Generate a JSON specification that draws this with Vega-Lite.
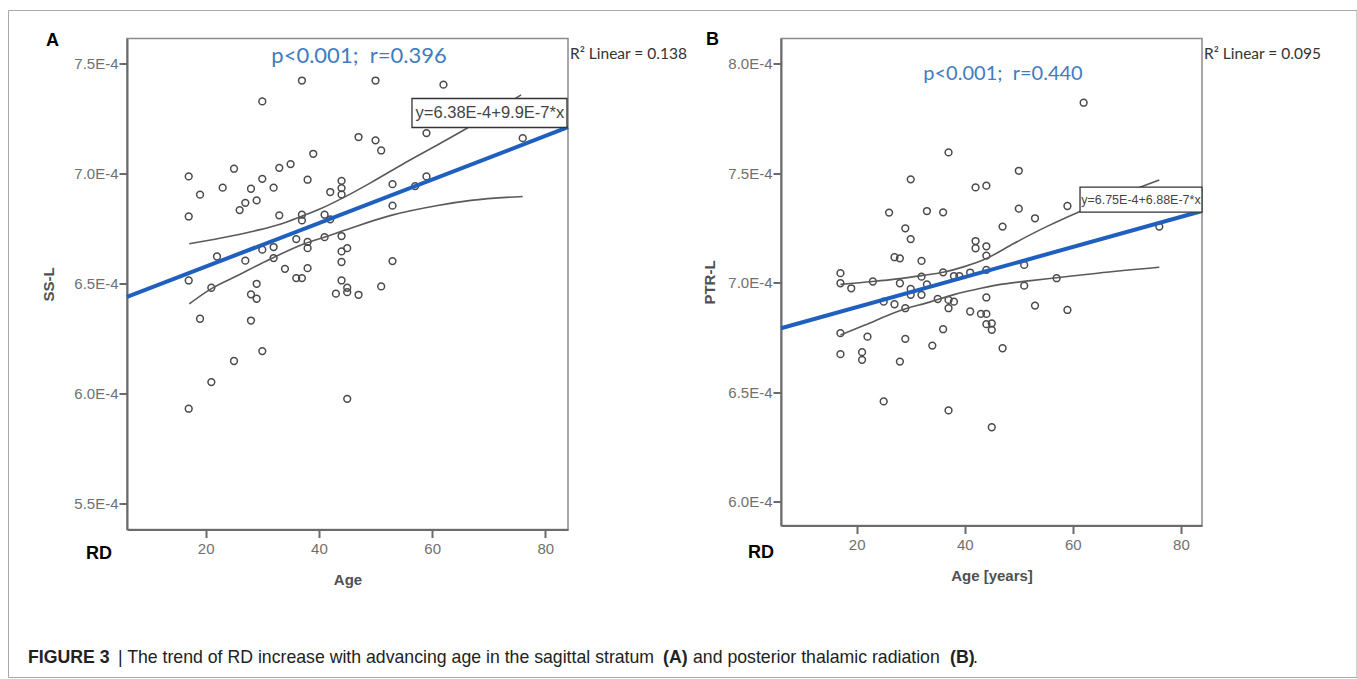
{
  "$schema": "https://vega.github.io/schema/vega-lite/v6.json",
  "background": "white",
  "padding": {"left": 7, "top": 8.5, "right": 0, "bottom": 0},
  "bounds": "flush",
  "spacing": 213,
  "datasets": {
    "frameA": [{"age": -14.83, "age2": 223.37, "val": 7.7423e-4, "val2": 4.7102e-4}],
    "pointsA": [
      {"age":37,"val":7.424e-4},{"age":50,"val":7.424e-4},{"age":62,"val":7.405e-4},{"age":30,"val":7.329e-4},{"age":59,"val":7.185e-4},{"age":76,"val":7.162e-4},{"age":47,"val":7.167e-4},{"age":50,"val":7.152e-4},{"age":51,"val":7.106e-4},{"age":39,"val":7.091e-4},
      {"age":17,"val":6.988e-4},{"age":25,"val":7.023e-4},{"age":33,"val":7.027e-4},{"age":35,"val":7.044e-4},{"age":30,"val":6.977e-4},{"age":38,"val":6.973e-4},{"age":44,"val":6.968e-4},{"age":44,"val":6.935e-4},{"age":44,"val":6.906e-4},{"age":42,"val":6.917e-4},
      {"age":23,"val":6.937e-4},{"age":19,"val":6.905e-4},{"age":28,"val":6.932e-4},{"age":32,"val":6.937e-4},{"age":53,"val":6.953e-4},{"age":59,"val":6.988e-4},{"age":57,"val":6.944e-4},{"age":53,"val":6.855e-4},{"age":27,"val":6.868e-4},{"age":26,"val":6.835e-4},
      {"age":29,"val":6.879e-4},{"age":17,"val":6.806e-4},{"age":33,"val":6.811e-4},{"age":37,"val":6.814e-4},{"age":37,"val":6.788e-4},{"age":41,"val":6.814e-4},{"age":42,"val":6.793e-4},{"age":36,"val":6.703e-4},{"age":38,"val":6.690e-4},{"age":38,"val":6.662e-4},
      {"age":41,"val":6.712e-4},{"age":44,"val":6.717e-4},{"age":30,"val":6.655e-4},{"age":32,"val":6.667e-4},{"age":32,"val":6.617e-4},{"age":22,"val":6.624e-4},{"age":27,"val":6.605e-4},{"age":44,"val":6.647e-4},{"age":45,"val":6.662e-4},{"age":44,"val":6.599e-4},
      {"age":53,"val":6.603e-4},{"age":17,"val":6.515e-4},{"age":21,"val":6.482e-4},{"age":29,"val":6.500e-4},{"age":28,"val":6.452e-4},{"age":29,"val":6.432e-4},{"age":34,"val":6.568e-4},{"age":38,"val":6.571e-4},{"age":36,"val":6.526e-4},{"age":37,"val":6.526e-4},
      {"age":44,"val":6.515e-4},{"age":45,"val":6.482e-4},{"age":45,"val":6.462e-4},{"age":43,"val":6.455e-4},{"age":47,"val":6.450e-4},{"age":51,"val":6.488e-4},{"age":19,"val":6.341e-4},{"age":28,"val":6.333e-4},{"age":30,"val":6.194e-4},{"age":25,"val":6.149e-4},
      {"age":21,"val":6.053e-4},{"age":45,"val":5.977e-4},{"age":17,"val":5.932e-4}
    ],
    "ciA": [
      {"bound":"upper","age":17.10,"val":6.682e-4},{"bound":"upper","age":22.70,"val":6.708e-4},{"bound":"upper","age":28.59,"val":6.740e-4},{"bound":"upper","age":33.30,"val":6.772e-4},{"bound":"upper","age":36.84,"val":6.806e-4},{"bound":"upper","age":40.37,"val":6.842e-4},{"bound":"upper","age":43.90,"val":6.886e-4},{"bound":"upper","age":49.20,"val":6.960e-4},{"bound":"upper","age":55.09,"val":7.048e-4},{"bound":"upper","age":60.99,"val":7.132e-4},{"bound":"upper","age":65.69,"val":7.200e-4},{"bound":"upper","age":75.71,"val":7.359e-4},
      {"bound":"lower","age":17.10,"val":6.409e-4},{"bound":"lower","age":20.94,"val":6.477e-4},{"bound":"lower","age":25.65,"val":6.538e-4},{"bound":"lower","age":31.54,"val":6.614e-4},{"bound":"lower","age":37.42,"val":6.682e-4},{"bound":"lower","age":40.95,"val":6.712e-4},{"bound":"lower","age":44.49,"val":6.743e-4},{"bound":"lower","age":52.74,"val":6.811e-4},{"bound":"lower","age":60.99,"val":6.856e-4},{"bound":"lower","age":66.87,"val":6.879e-4},{"bound":"lower","age":76.00,"val":6.897e-4}
    ],
    "fitA": [{"age":6.1,"val":6.4404e-4},{"age":84.0,"val":7.2116e-4}],
    "boxA": [{"age":56.44,"age2":83.82,"val":7.3423e-4,"val2":7.2104e-4}],
    "eqA": [{"age":70.2,"val":7.2763e-4,"label":"y=6.38E-4+9.9E-7*x"}],
    "statA": [{"age":47.08,"val":7.5332e-4,"label":"p<0.001;\u00a0 r=0.396"}],
    "r2A": [{"age":84.35,"val":7.5468e-4,"label":"R² Linear = 0.138"}],
    "tagA": [{"age":-8.21,"val":7.6059e-4,"label":"A"},{"age":-1.14,"val":5.2739e-4,"label":"RD"}],
    "capBold": [{"age":-11.39,"val":4.8011e-4,"label":"FIGURE 3"},{"age":100.78,"val":4.8011e-4,"label":"(A)"},{"age":151.48,"val":4.8011e-4,"label":"(B)"}],
    "capNormal": [{"age":4.5,"val":4.8011e-4,"label":"| The trend of RD increase with advancing age in the sagittal stratum"},{"age":106.08,"val":4.8011e-4,"label":"and posterior thalamic radiation"},{"age":155.54,"val":4.8011e-4,"label":"."}],
    "pointsB": [
      {"age":62,"val":7.822e-4},{"age":37,"val":7.595e-4},{"age":50,"val":7.511e-4},{"age":30,"val":7.472e-4},{"age":42,"val":7.435e-4},{"age":44,"val":7.443e-4},{"age":26,"val":7.320e-4},{"age":33,"val":7.327e-4},{"age":36,"val":7.321e-4},{"age":50,"val":7.338e-4},
      {"age":53,"val":7.294e-4},{"age":59,"val":7.350e-4},{"age":47,"val":7.256e-4},{"age":29,"val":7.248e-4},{"age":30,"val":7.199e-4},{"age":42,"val":7.190e-4},{"age":42,"val":7.157e-4},{"age":44,"val":7.166e-4},{"age":44,"val":7.123e-4},{"age":27,"val":7.116e-4},
      {"age":28,"val":7.111e-4},{"age":32,"val":7.099e-4},{"age":76,"val":7.256e-4},{"age":17,"val":7.043e-4},{"age":17,"val":6.997e-4},{"age":19,"val":6.974e-4},{"age":23,"val":7.005e-4},{"age":28,"val":6.997e-4},{"age":32,"val":7.027e-4},{"age":33,"val":6.992e-4},
      {"age":30,"val":6.971e-4},{"age":30,"val":6.944e-4},{"age":32,"val":6.944e-4},{"age":36,"val":7.047e-4},{"age":38,"val":7.030e-4},{"age":39,"val":7.030e-4},{"age":41,"val":7.046e-4},{"age":44,"val":7.058e-4},{"age":51,"val":7.081e-4},{"age":51,"val":6.986e-4},
      {"age":57,"val":7.020e-4},{"age":25,"val":6.913e-4},{"age":27,"val":6.901e-4},{"age":29,"val":6.883e-4},{"age":35,"val":6.925e-4},{"age":37,"val":6.921e-4},{"age":37,"val":6.883e-4},{"age":38,"val":6.913e-4},{"age":44,"val":6.932e-4},{"age":41,"val":6.868e-4},
      {"age":43,"val":6.857e-4},{"age":44,"val":6.857e-4},{"age":44,"val":6.810e-4},{"age":45,"val":6.814e-4},{"age":45,"val":6.784e-4},{"age":53,"val":6.895e-4},{"age":59,"val":6.875e-4},{"age":17,"val":6.769e-4},{"age":22,"val":6.753e-4},{"age":29,"val":6.743e-4},
      {"age":36,"val":6.787e-4},{"age":34,"val":6.712e-4},{"age":17,"val":6.673e-4},{"age":21,"val":6.682e-4},{"age":21,"val":6.647e-4},{"age":28,"val":6.639e-4},{"age":47,"val":6.700e-4},{"age":25,"val":6.457e-4},{"age":37,"val":6.416e-4},{"age":45,"val":6.339e-4}
    ],
    "ciB": [
      {"bound":"upper","age":17.0,"val":6.992e-4},{"bound":"upper","age":23.0,"val":7.005e-4},{"bound":"upper","age":27.58,"val":7.017e-4},{"bound":"upper","age":32.0,"val":7.032e-4},{"bound":"upper","age":36.0,"val":7.047e-4},{"bound":"upper","age":39.91,"val":7.073e-4},{"bound":"upper","age":44.0,"val":7.110e-4},{"bound":"upper","age":49.16,"val":7.180e-4},{"bound":"upper","age":55.33,"val":7.258e-4},{"bound":"upper","age":63.35,"val":7.347e-4},{"bound":"upper","age":76.0,"val":7.469e-4},
      {"bound":"lower","age":17.0,"val":6.761e-4},{"bound":"lower","age":21.41,"val":6.805e-4},{"bound":"lower","age":27.58,"val":6.868e-4},{"bound":"lower","age":33.75,"val":6.913e-4},{"bound":"lower","age":38.0,"val":6.945e-4},{"bound":"lower","age":43.0,"val":6.974e-4},{"bound":"lower","age":47.31,"val":6.994e-4},{"bound":"lower","age":52.25,"val":7.009e-4},{"bound":"lower","age":57.0,"val":7.022e-4},{"bound":"lower","age":64.58,"val":7.043e-4},{"bound":"lower","age":76.0,"val":7.070e-4}
    ],
    "fitB": [{"age":6.0,"val":6.7913e-4},{"age":83.9,"val":7.3272e-4}],
    "boxB": [{"age":61.33,"age2":83.9,"val":7.436e-4,"val2":7.3217e-4}],
    "eqB": [{"age":72.6,"val":7.3789e-4,"label":"y=6.75E-4+6.88E-7*x"}],
    "statB": [{"age":47.08,"val":7.951e-4,"label":"p<0.001;\u00a0 r=0.440"}],
    "r2B": [{"age":84.27,"val":8.0456e-4,"label":"R² Linear = 0.095"}],
    "tagB": [{"age":-7.88,"val":8.1064e-4,"label":"B"},{"age":-0.11,"val":5.7634e-4,"label":"RD"}]
  },
  "hconcat": [
    {
      "width": 441,
      "height": 491,
      "encoding": {
        "x": {"field": "age", "type": "quantitative", "scale": {"domain": [6.1, 84.0], "nice": false, "zero": false}, "axis": {"values": [20, 40, 60, 80], "title": "Age"}},
        "y": {"field": "val", "type": "quantitative", "scale": {"domain": [5.383e-4, 7.615e-4], "nice": false, "zero": false}, "axis": {"values": [5.5e-4, 6.0e-4, 6.5e-4, 7.0e-4, 7.5e-4], "labelExpr": "format(datum.value*10000,'.1f')+'E-4'", "title": "SS-L", "titlePadding": 17}}
      },
      "layer": [
        {"data": {"name": "frameA"}, "mark": {"type": "rect", "fillOpacity": 0, "stroke": "#a8a8a8", "strokeWidth": 1}, "encoding": {"x2": {"field": "age2"}, "y2": {"field": "val2"}}},
        {"data": {"name": "pointsA"}, "mark": {"type": "point", "shape": "circle", "filled": false, "size": 46, "stroke": "#4a4a4a", "strokeWidth": 1.5, "opacity": 1}},
        {"data": {"name": "ciA"}, "mark": {"type": "line", "color": "#5a5a5a", "strokeWidth": 1.6, "interpolate": "monotone"}, "encoding": {"detail": {"field": "bound"}}},
        {"data": {"name": "fitA"}, "mark": {"type": "line", "color": "#1f5fbf", "strokeWidth": 4}, "encoding": {}},
        {"data": {"name": "boxA"}, "mark": {"type": "rect", "fill": "white", "stroke": "#333333", "strokeWidth": 1.3}, "encoding": {"x2": {"field": "age2"}, "y2": {"field": "val2"}}},
        {"data": {"name": "eqA"}, "mark": {"type": "text", "align": "center", "baseline": "middle", "font": "Liberation Sans", "fontSize": 16.5, "color": "#444444"}, "encoding": {"text": {"field": "label"}}},
        {"data": {"name": "statA"}, "mark": {"type": "text", "align": "center", "baseline": "middle", "font": "Lato", "fontSize": 22, "color": "#3f7cc0"}, "encoding": {"text": {"field": "label"}}},
        {"data": {"name": "r2A"}, "mark": {"type": "text", "align": "left", "baseline": "middle", "font": "Lato", "fontSize": 15.5, "color": "#333333"}, "encoding": {"text": {"field": "label"}}},
        {"data": {"name": "tagA"}, "mark": {"type": "text", "align": "left", "baseline": "middle", "font": "Liberation Sans", "fontWeight": "bold", "fontSize": 18, "color": "#000000"}, "encoding": {"text": {"field": "label"}}},
        {"data": {"name": "capBold"}, "mark": {"type": "text", "align": "left", "baseline": "middle", "font": "Liberation Sans", "fontWeight": "bold", "fontSize": 17.7, "color": "#222222"}, "encoding": {"text": {"field": "label"}}},
        {"data": {"name": "capNormal"}, "mark": {"type": "text", "align": "left", "baseline": "middle", "font": "Liberation Sans", "fontSize": 17.7, "color": "#222222"}, "encoding": {"text": {"field": "label"}}}
      ]
    },
    {
      "width": 421,
      "height": 487,
      "encoding": {
        "x": {"field": "age", "type": "quantitative", "scale": {"domain": [6.0, 83.9], "nice": false, "zero": false}, "axis": {"values": [20, 40, 60, 80], "title": "Age [years]"}},
        "y": {"field": "val", "type": "quantitative", "scale": {"domain": [5.89e-4, 8.1155e-4], "nice": false, "zero": false}, "axis": {"values": [6.0e-4, 6.5e-4, 7.0e-4, 7.5e-4, 8.0e-4], "labelExpr": "format(datum.value*10000,'.1f')+'E-4'", "title": "PTR-L", "titlePadding": 10}}
      },
      "layer": [
        {"data": {"name": "pointsB"}, "mark": {"type": "point", "shape": "circle", "filled": false, "size": 46, "stroke": "#4a4a4a", "strokeWidth": 1.5, "opacity": 1}},
        {"data": {"name": "ciB"}, "mark": {"type": "line", "color": "#5a5a5a", "strokeWidth": 1.6, "interpolate": "monotone"}, "encoding": {"detail": {"field": "bound"}}},
        {"data": {"name": "fitB"}, "mark": {"type": "line", "color": "#1f5fbf", "strokeWidth": 4}, "encoding": {}},
        {"data": {"name": "boxB"}, "mark": {"type": "rect", "fill": "white", "stroke": "#333333", "strokeWidth": 1.3}, "encoding": {"x2": {"field": "age2"}, "y2": {"field": "val2"}}},
        {"data": {"name": "eqB"}, "mark": {"type": "text", "align": "center", "baseline": "middle", "font": "Liberation Sans", "fontSize": 12.5, "color": "#444444"}, "encoding": {"text": {"field": "label"}}},
        {"data": {"name": "statB"}, "mark": {"type": "text", "align": "center", "baseline": "middle", "font": "Lato", "fontSize": 20, "color": "#3f7cc0"}, "encoding": {"text": {"field": "label"}}},
        {"data": {"name": "r2B"}, "mark": {"type": "text", "align": "left", "baseline": "middle", "font": "Lato", "fontSize": 15.5, "color": "#333333"}, "encoding": {"text": {"field": "label"}}},
        {"data": {"name": "tagB"}, "mark": {"type": "text", "align": "left", "baseline": "middle", "font": "Liberation Sans", "fontWeight": "bold", "fontSize": 18, "color": "#000000"}, "encoding": {"text": {"field": "label"}}}
      ]
    }
  ],
  "config": {
    "font": "Liberation Sans",
    "view": {"stroke": "#8a8a8a", "strokeWidth": 1.5},
    "axis": {"grid": false, "domainColor": "#6b6b6b", "domainWidth": 2, "tickColor": "#6b6b6b", "tickWidth": 2, "tickSize": 8, "labelFont": "Liberation Sans", "labelFontSize": 15, "labelColor": "#707070", "titleFont": "Liberation Sans", "titleFontSize": 15, "titleFontWeight": "bold", "titleColor": "#505050"},
    "axisX": {"labelPadding": 4, "titlePadding": 16},
    "axisY": {"labelPadding": 1}
  }
}
